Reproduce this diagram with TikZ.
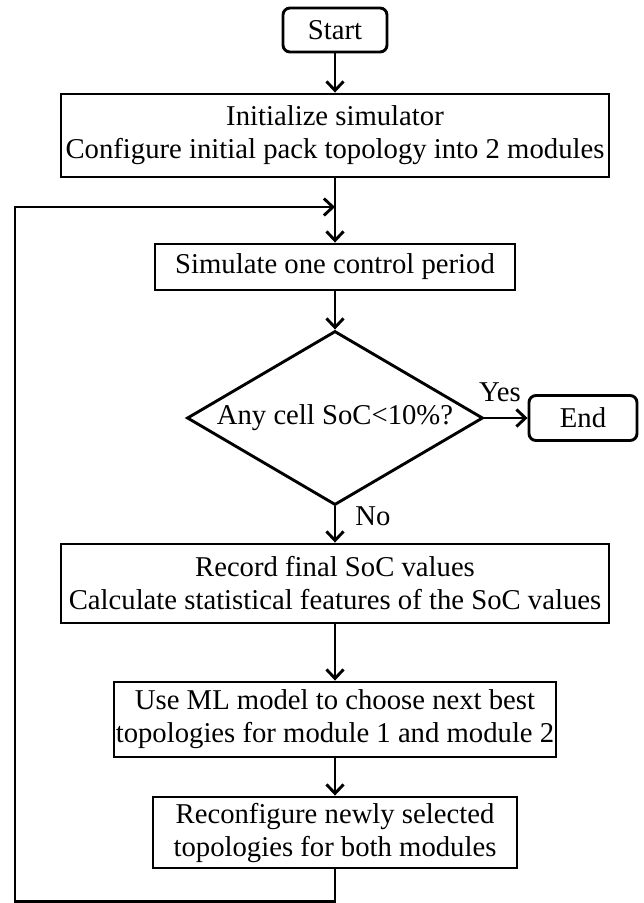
\documentclass[tikz,border=0pt]{standalone}
\usepackage{fontspec}
\setmainfont{Liberation Serif}
\usetikzlibrary{shapes.geometric,arrows.meta,positioning,calc}

\begin{document}
\begin{tikzpicture}[x=1pt, y=-1pt, line width=2.9pt,
    >={Straight Barb[length=9pt,width=17pt]},
    font=\fontsize{28.7}{33}\selectfont,
    every node/.style={inner sep=0pt},
    block/.style={draw, rectangle, align=center},
    term/.style={draw, rectangle, rounded corners=7pt},
    decision/.style={draw, diamond, aspect=1.7}]
    \useasboundingbox (0,0) rectangle (644,903);

    % Start / End
    \node[term, minimum width=104pt, minimum height=44pt] (start) at (335,30) {Start};
    \node[term, minimum width=108pt, minimum height=45pt] (stop) at (583,418) {End};

    % Steps
    \node[block, minimum width=548pt, minimum height=83pt] (init) at (335,135.5) {Initialize simulator\\Configure initial pack topology into 2 modules};
    \node[block, minimum width=360pt, minimum height=46pt] (sim) at (335,267) {Simulate one control period};
    \node[decision, minimum width=296pt, minimum height=174pt] (check) at (335,418) {Any cell SoC<10\%?};
    \node[block, minimum width=548pt, minimum height=79pt] (rec) at (335,583.5) {Record final SoC values\\Calculate statistical features of the SoC values};
    \node[block, minimum width=442pt, minimum height=75pt] (ml) at (335,719.5) {Use ML model to choose next best\\topologies for module 1 and module 2};
    \node[block, minimum width=364pt, minimum height=71pt] (recfg) at (335,832.5) {Reconfigure newly selected\\topologies for both modules};

    % Labels
    \node (yes) at (500,392) {Yes};
    \node (no) at (373,516) {No};

    % Arrows
    \coordinate (join) at (335,207);
    \draw[->] (start) -- (init);
    \draw[->] (init) -- (sim);
    \draw[->] (sim) -- (check);
    \draw[->] (check) -- (stop);
    \draw[->] (check) -- (rec);
    \draw[->] (rec) -- (ml);
    \draw[->] (ml) -- (recfg);
    \draw[->] (recfg.south) -- ++(0,32) -| (15,207) -- (join);
\end{tikzpicture}
\end{document}
